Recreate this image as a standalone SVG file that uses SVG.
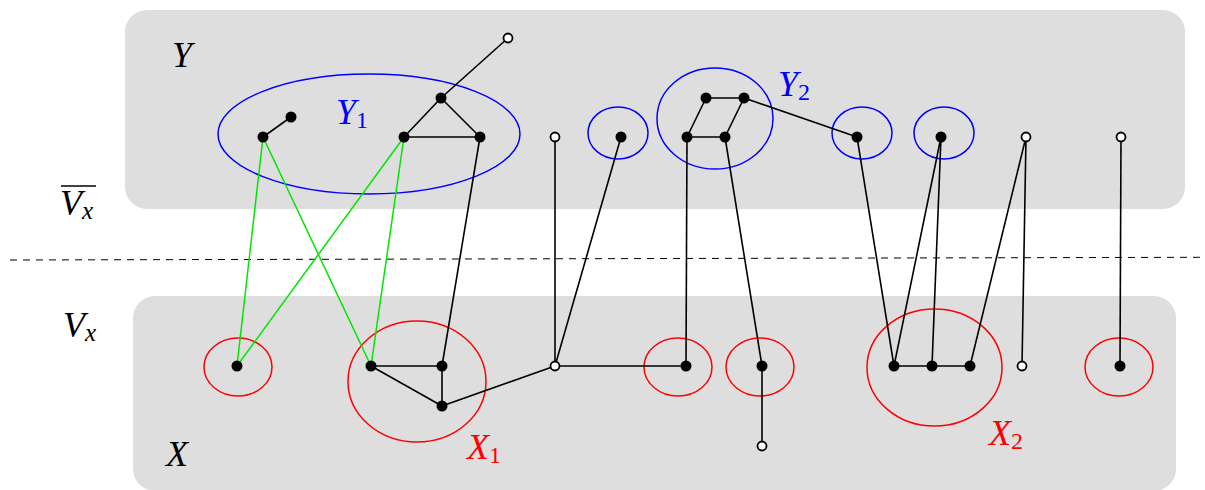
<svg xmlns="http://www.w3.org/2000/svg" width="1205" height="490" viewBox="0 0 1205 490">
<style>
.region{fill:#dedede;stroke:none}
.e{stroke:#000;stroke-width:1.6;fill:none}
.g{stroke:#00e600;stroke-width:1.5;fill:none}
.blue{stroke:#0000ff;stroke-width:1.5;fill:none}
.red{stroke:#ff0000;stroke-width:1.5;fill:none}
.f{fill:#000;stroke:none}
.o{fill:#fff;stroke:#000;stroke-width:1.8}
.lbl{font-family:"Liberation Serif","DejaVu Serif",serif;font-style:italic;font-size:36px}
.sub{font-family:"Liberation Serif","DejaVu Serif",serif;font-size:24px;font-style:normal}
.subi{font-family:"Liberation Serif","DejaVu Serif",serif;font-size:25px;font-style:italic}
</style>
<g id="regions">
<rect class="region" x="125" y="10" width="1060" height="199" rx="22"/>
<rect class="region" x="133" y="296" width="1043" height="195" rx="22"/>
</g>
<line x1="10" y1="260" x2="1200" y2="257.3" stroke="#000" stroke-width="1" stroke-dasharray="7,6"/>
<g id="groups">
<ellipse class="blue" cx="369" cy="134" rx="151" ry="60"/>
<ellipse class="blue" cx="618" cy="133" rx="30" ry="26"/>
<ellipse class="blue" cx="715" cy="118.5" rx="58" ry="50.5"/>
<ellipse class="blue" cx="862" cy="133" rx="30" ry="26"/>
<ellipse class="blue" cx="944" cy="133" rx="30" ry="26"/>
<ellipse class="red" cx="238" cy="367" rx="34" ry="29"/>
<ellipse class="red" cx="417" cy="381.5" rx="69" ry="60.5"/>
<ellipse class="red" cx="678" cy="367" rx="34" ry="29"/>
<ellipse class="red" cx="760" cy="367" rx="34" ry="29"/>
<ellipse class="red" cx="934.5" cy="367.5" rx="67.5" ry="58.5"/>
<ellipse class="red" cx="1119" cy="367" rx="34" ry="29"/>
</g>
<g id="connectors">
<line class="g" x1="263" y1="137" x2="237" y2="366"/>
<line class="g" x1="263" y1="137" x2="371" y2="366"/>
<line class="g" x1="404" y1="137" x2="237" y2="366"/>
<line class="g" x1="404" y1="137" x2="371" y2="366"/>
<line class="e" x1="263" y1="137" x2="291" y2="117"/>
<line class="e" x1="404" y1="137" x2="441" y2="98"/>
<line class="e" x1="441" y1="98" x2="480" y2="137"/>
<line class="e" x1="404" y1="137" x2="480" y2="137"/>
<line class="e" x1="441" y1="98" x2="508" y2="38"/>
<line class="e" x1="480" y1="137" x2="442" y2="366"/>
<line class="e" x1="555" y1="137" x2="555" y2="366"/>
<line class="e" x1="621" y1="137" x2="555" y2="366"/>
<line class="e" x1="706" y1="98" x2="744" y2="98"/>
<line class="e" x1="687" y1="137" x2="725" y2="137"/>
<line class="e" x1="706" y1="98" x2="687" y2="137"/>
<line class="e" x1="744" y1="98" x2="725" y2="137"/>
<line class="e" x1="744" y1="98" x2="857" y2="137"/>
<line class="e" x1="687" y1="137" x2="686" y2="366"/>
<line class="e" x1="725" y1="137" x2="762" y2="366"/>
<line class="e" x1="857" y1="137" x2="894" y2="366"/>
<line class="e" x1="941" y1="137" x2="894" y2="366"/>
<line class="e" x1="941" y1="137" x2="932" y2="366"/>
<line class="e" x1="1026" y1="137" x2="970" y2="366"/>
<line class="e" x1="1026" y1="137" x2="1022" y2="366"/>
<line class="e" x1="1121" y1="137" x2="1120" y2="366"/>
<line class="e" x1="371" y1="366" x2="442" y2="366"/>
<line class="e" x1="442" y1="366" x2="442" y2="406"/>
<line class="e" x1="371" y1="366" x2="442" y2="406"/>
<line class="e" x1="442" y1="406" x2="555" y2="366"/>
<line class="e" x1="555" y1="366" x2="686" y2="366"/>
<line class="e" x1="762" y1="366" x2="762" y2="446"/>
<line class="e" x1="894" y1="366" x2="970" y2="366"/>
</g>
<g id="nodes">
<circle id="n1" class="f" cx="263" cy="137" r="5.5"/>
<circle id="n2" class="f" cx="291" cy="117" r="5.5"/>
<circle id="n3" class="f" cx="404" cy="137" r="5.5"/>
<circle id="n4" class="f" cx="441" cy="98" r="5.5"/>
<circle id="n5" class="f" cx="480" cy="137" r="5.5"/>
<circle id="n6" class="o" cx="508" cy="38" r="4.5"/>
<circle id="n7" class="o" cx="555" cy="137" r="4.5"/>
<circle id="n8" class="f" cx="621" cy="137" r="5.5"/>
<circle id="n9" class="f" cx="706" cy="98" r="5.5"/>
<circle id="n10" class="f" cx="744" cy="98" r="5.5"/>
<circle id="n11" class="f" cx="687" cy="137" r="5.5"/>
<circle id="n12" class="f" cx="725" cy="137" r="5.5"/>
<circle id="n13" class="f" cx="857" cy="137" r="5.5"/>
<circle id="n14" class="f" cx="941" cy="137" r="5.5"/>
<circle id="n15" class="o" cx="1026" cy="137" r="4.5"/>
<circle id="n16" class="o" cx="1121" cy="137" r="4.5"/>
<circle id="n17" class="f" cx="237" cy="366" r="5.5"/>
<circle id="n18" class="f" cx="371" cy="366" r="5.5"/>
<circle id="n19" class="f" cx="442" cy="366" r="5.5"/>
<circle id="n20" class="f" cx="442" cy="406" r="5.5"/>
<circle id="n21" class="o" cx="555" cy="366" r="4.5"/>
<circle id="n22" class="f" cx="686" cy="366" r="5.5"/>
<circle id="n23" class="f" cx="762" cy="366" r="5.5"/>
<circle id="n24" class="o" cx="762" cy="446" r="4.5"/>
<circle id="n25" class="f" cx="894" cy="366" r="5.5"/>
<circle id="n26" class="f" cx="932" cy="366" r="5.5"/>
<circle id="n27" class="f" cx="970" cy="366" r="5.5"/>
<circle id="n28" class="o" cx="1022" cy="366" r="4.5"/>
<circle id="n29" class="f" cx="1120" cy="366" r="5.5"/>
</g>
<g id="labels">
<text class="lbl" x="172" y="67" fill="#000">Y</text>
<text class="lbl" x="336" y="124" fill="#0000ff">Y<tspan class="sub" dy="4">1</tspan></text>
<text class="lbl" x="778" y="96" fill="#0000ff">Y<tspan class="sub" dy="4">2</tspan></text>
<text class="lbl" x="60" y="215" fill="#000">V<tspan class="subi" dy="4">x</tspan></text>
<line x1="61" y1="186" x2="96" y2="186" stroke="#000" stroke-width="1.5"/>
<text class="lbl" x="63" y="337" fill="#000">V<tspan class="subi" dy="4">x</tspan></text>
<text class="lbl" x="166" y="466" fill="#000">X</text>
<text class="lbl" x="467" y="459" fill="#ff0000">X<tspan class="sub" dy="4">1</tspan></text>
<text class="lbl" x="989" y="445" fill="#ff0000">X<tspan class="sub" dy="4">2</tspan></text>
</g>
</svg>
